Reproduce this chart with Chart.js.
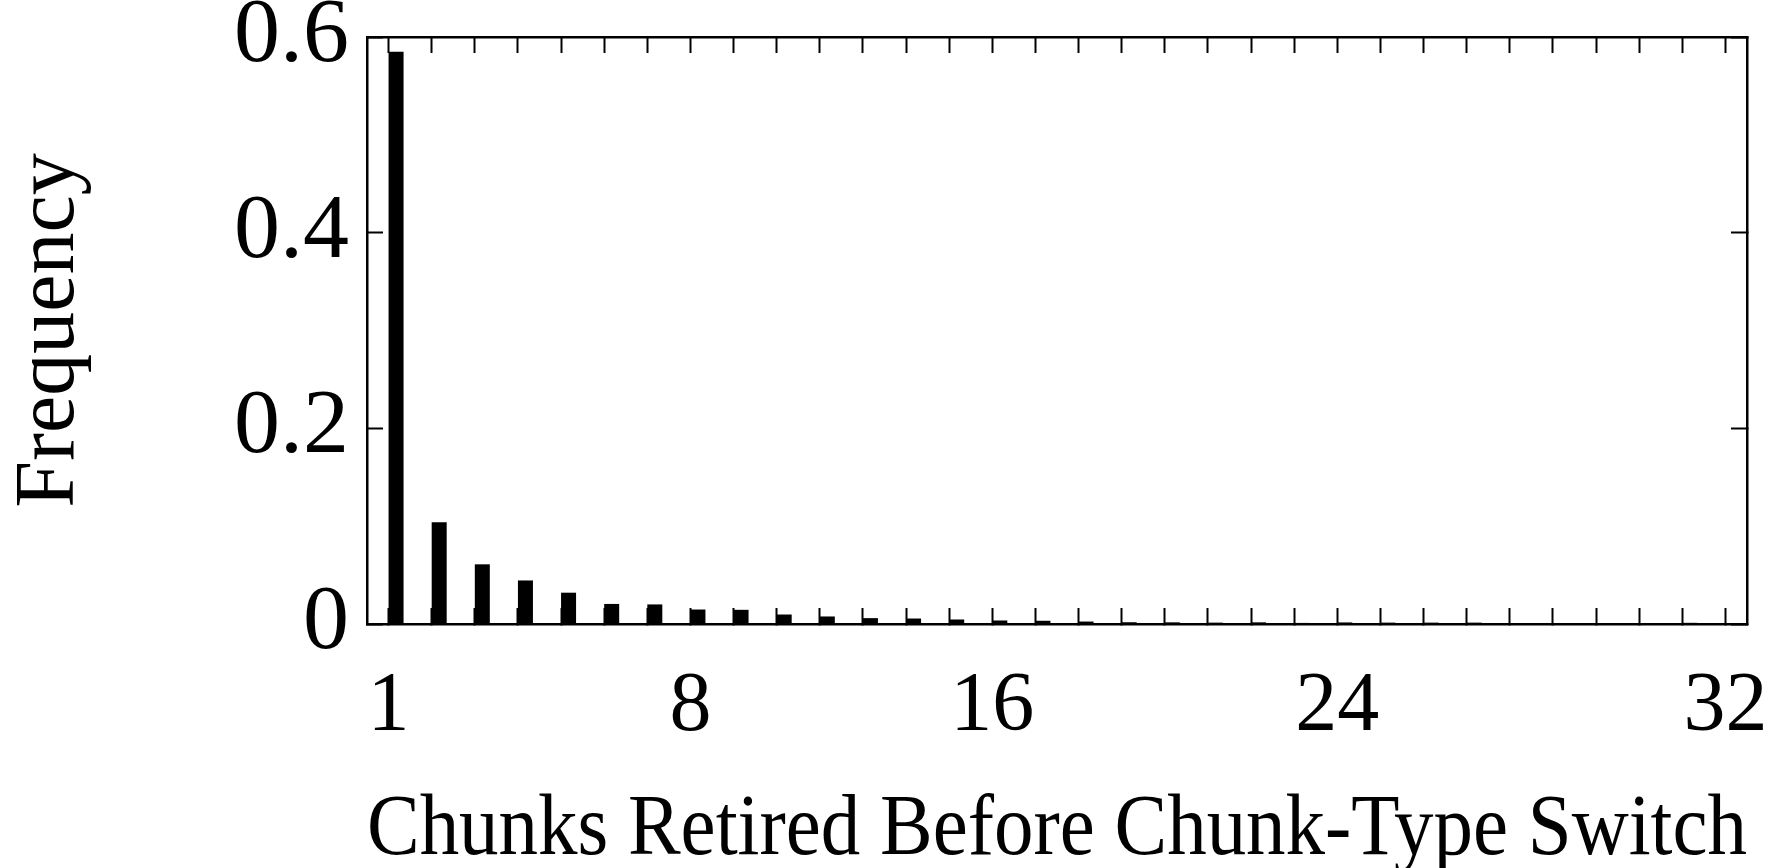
<!DOCTYPE html>
<html>
<head>
<meta charset="utf-8">
<title>Chunks Retired Before Chunk-Type Switch</title>
<script src="https://cdn.jsdelivr.net/npm/chart.js@4/dist/chart.umd.min.js"></script>
<style>
  html, body { margin: 0; padding: 0; background: #fff; }
  canvas { display: block; }
</style>
</head>
<body>
<canvas id="chart" width="1783" height="868"></canvas>
<script>
// Run lengths: number of chunks retired before the chunk type changes
const categories = ['1','2','3','4','5','6','7','8','9','10','11','12','13','14','15','16',
                    '17','18','19','20','21','22','23','24','25','26','27','28','29','30','31','32'];

// Relative frequency of each run length
const frequency = [0.585, 0.104, 0.061, 0.0445, 0.032, 0.0205, 0.020, 0.0148,
                   0.0145, 0.0097, 0.0077, 0.006, 0.0056, 0.0046, 0.0036, 0.0033,
                   0.0025, 0.0018, 0.0017, 0.0014, 0.0017, 0.0011, 0.0016, 0.0014,
                   0.0014, 0.0014, 0.001, 0.001, 0.001, 0.0008, 0.0012, 0.0008];

// Categories that carry a printed label on the x axis, and the text printed there
const xLabelSlots = ['1', '8', '15', '23', '32'];
const xLabelTexts = ['1', '8', '16', '24', '32'];

// Frequency axis ticks
const yTickValues = [0, 0.2, 0.4, 0.6];
const yTickLabels = ['0', '0.2', '0.4', '0.6'];

const FONT = 'Liberation Serif, Times New Roman, serif';
const INK = '#000';

// Inward tick marks on every side of the frame
const frameGrid = {
  display: true,
  drawOnChartArea: false,
  drawTicks: true,
  tickLength: -16,
  tickWidth: 2,
  tickColor: INK,
  offset: false
};
const frameBorder = { display: true, color: INK, width: 2.5 };

const useFixedTicks = (scale) => {
  scale.ticks = yTickValues.map(v => ({ value: v }));
};

// Give each axis a fixed thickness and let its labels overhang the frame
const fixSize = (prop, size) => (scale) => {
  scale[prop] = size;
  scale.paddingLeft = 0;
  scale.paddingRight = 0;
  scale.paddingTop = 0;
  scale.paddingBottom = 0;
};

new Chart(document.getElementById('chart'), {
  type: 'bar',
  data: {
    labels: categories,
    datasets: [
      {
        // empty left half of each category, so the bar sits right of its tick
        label: '',
        data: categories.map(() => null),
        backgroundColor: 'rgba(0,0,0,0)',
        xAxisID: 'x',
        yAxisID: 'y'
      },
      {
        label: 'Frequency',
        data: frequency,
        backgroundColor: INK,
        borderWidth: 0,
        xAxisID: 'x',
        yAxisID: 'y'
      }
    ]
  },
  options: {
    responsive: false,
    animation: false,
    devicePixelRatio: 1,
    layout: { padding: 0 },
    datasets: {
      bar: { categoryPercentage: 0.6957, barPercentage: 1.0 }
    },
    plugins: {
      legend: { display: false },
      title: { display: false },
      tooltip: { enabled: false }
    },
    scales: {
      x: {
        type: 'category',
        position: 'bottom',
        offset: true,
        grid: frameGrid,
        border: frameBorder,
        ticks: {
          autoSkip: false,
          maxRotation: 0,
          minRotation: 0,
          padding: 58,
          color: INK,
          font: { family: FONT, size: 84, lineHeight: 1 },
          callback: function (value, index) {
            const k = xLabelSlots.indexOf(categories[index]);
            return k >= 0 ? xLabelTexts[k] : '';
          }
        },
        title: {
          display: true,
          text: 'Chunks Retired Before Chunk-Type Switch',
          color: INK,
          font: { family: FONT, size: 86, lineHeight: 0.8 },
          padding: { top: 0, bottom: 2 }
        },
        afterFit: fixSize('height', 244)
      },
      x2: {
        type: 'category',
        position: 'top',
        offset: true,
        grid: frameGrid,
        border: frameBorder,
        ticks: { display: false, autoSkip: false },
        afterFit: fixSize('height', 37)
      },
      y: {
        type: 'linear',
        position: 'left',
        min: 0,
        max: 0.6,
        grid: frameGrid,
        border: frameBorder,
        afterBuildTicks: useFixedTicks,
        ticks: {
          padding: 34,
          color: INK,
          font: { family: FONT, size: 92, lineHeight: 1 },
          callback: function (value) {
            const k = yTickValues.findIndex(v => Math.abs(v - value) < 1e-9);
            return k >= 0 ? yTickLabels[k] : '';
          }
        },
        title: {
          display: true,
          text: 'Frequency',
          color: INK,
          font: { family: FONT, size: 84, lineHeight: 1 },
          padding: { top: 9, bottom: 0 }
        },
        afterFit: fixSize('width', 367)
      },
      y2: {
        type: 'linear',
        position: 'right',
        min: 0,
        max: 0.6,
        grid: frameGrid,
        border: frameBorder,
        afterBuildTicks: useFixedTicks,
        ticks: { display: false },
        afterFit: fixSize('width', 36)
      }
    }
  }
});
</script>
</body>
</html>
